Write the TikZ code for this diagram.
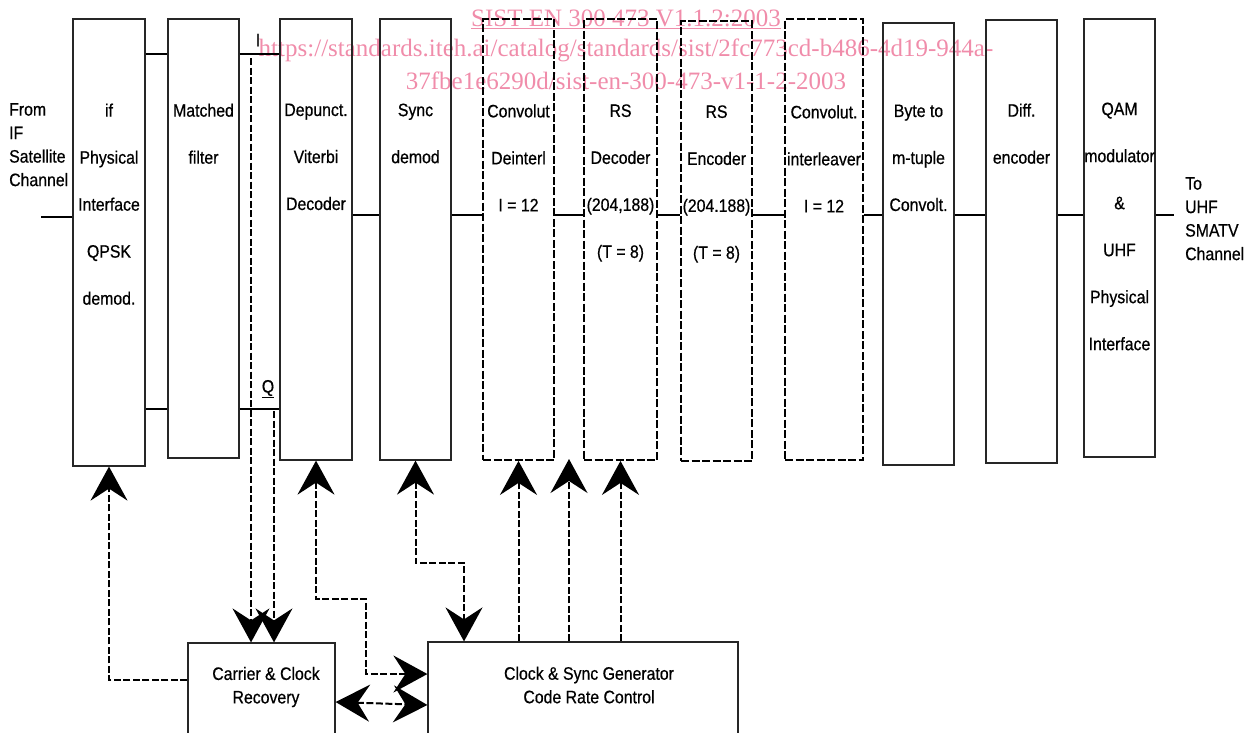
\documentclass[tikz,border=0pt]{standalone}
\usepackage{fontspec}
\setmainfont[FakeStretch=0.88,FakeBold=0.6]{Liberation Sans}
\newfontfamily\wmfont{Liberation Serif}
\usetikzlibrary{arrows.meta}
\definecolor{wmpink}{RGB}{240,140,170}

\begin{document}
\begin{tikzpicture}[x=1pt,y=-1pt,
  >={Stealth[length=34pt,width=37pt,inset=12pt]},
  blk/.style={draw=black!85,line width=1.2pt,inner sep=0pt},
  dblk/.style={draw,line width=1.8pt,dash pattern=on 8pt off 2.5pt,inner sep=0pt},
  txt/.style={anchor=north,align=center,inner sep=0pt,font=\fontsize{18}{47}\selectfont},
  lbl/.style={align=center,inner sep=0pt,font=\fontsize{18}{23.5}\selectfont},
  sig/.style={line width=1.5pt},
  ctl/.style={line width=2pt,dash pattern=on 7pt off 2.5pt},
  wm/.style={text=wmpink,inner sep=0pt,font=\wmfont\fontsize{25}{31}\selectfont}]
  \useasboundingbox (0,0) rectangle (1257,732);
  % watermark
  \node[wm] (wm1) at (626,19) {\underline{SIST EN 300 473 V1.1.2:2003}};
  \node[wm] (wm2) at (626,50) {https://standards.iteh.ai/catalog/standards/sist/2fc773cd-b486-4d19-944a-};
  \node[wm] (wm3) at (626,81) {37fbe1e6290d/sist-en-300-473-v1-1-2-2003};
  % processing chain
  \node[blk,minimum width=72,minimum height=447] (ifpi) at (109,242.5) {};
  \node[blk,minimum width=71,minimum height=439] (mf) at (203.5,238.5) {};
  \node[blk,minimum width=72,minimum height=441] (vit) at (316,239.5) {};
  \node[blk,minimum width=71,minimum height=441] (syn) at (415.5,239.5) {};
  \node[dblk,minimum width=71,minimum height=441] (dint) at (518.5,239.5) {};
  \node[dblk,minimum width=73,minimum height=441] (rsd) at (620.5,239.5) {};
  \node[dblk,minimum width=71,minimum height=440] (rse) at (716.5,241) {};
  \node[dblk,minimum width=78,minimum height=441] (intl) at (824,239.5) {};
  \node[blk,minimum width=71,minimum height=442] (btm) at (918.5,244) {};
  \node[blk,minimum width=71,minimum height=443] (dif) at (1021.5,241.5) {};
  \node[blk,minimum width=71,minimum height=438] (qam) at (1119.5,238) {};
  \node[txt] (ifpit) at ([yshift=-85pt]ifpi.north) {if\\Physical\\Interface\\QPSK\\demod.};
  \node[txt] (mft) at ([yshift=-85pt]mf.north) {Matched\\filter};
  \node[txt] (vitt) at ([yshift=-85pt]vit.north) {Depunct.\\Viterbi\\Decoder};
  \node[txt] (synt) at ([yshift=-85pt]syn.north) {Sync\\demod};
  \node[txt] (dintt) at ([yshift=-86pt]dint.north) {Convolut\\Deinterl\\I = 12};
  \node[txt] (rsdt) at ([yshift=-86pt]rsd.north) {RS\\Decoder\\(204,188)\\(T = 8)};
  \node[txt] (rset) at ([yshift=-85pt]rse.north) {RS\\Encoder\\(204.188)\\(T = 8)};
  \node[txt] (intlt) at ([yshift=-87pt]intl.north) {Convolut.\\interleaver\\I = 12};
  \node[txt] (btmt) at ([yshift=-82pt]btm.north) {Byte to\\m-tuple\\Convolt.};
  \node[txt] (dift) at ([yshift=-84pt]dif.north) {Diff.\\encoder};
  \node[txt] (qamt) at ([yshift=-84pt]qam.north) {QAM\\modulator\\\&\\UHF\\Physical\\Interface};
  % control blocks
  \node[blk,minimum width=147,minimum height=107] (crr) at (261.5,696.5) {};
  \node[blk,minimum width=310,minimum height=108] (csg) at (583,696) {};
  \node[lbl] (crrt) at (266,687) {Carrier \& Clock\\Recovery};
  \node[lbl] (csgt) at (589,685) {Clock \& Sync Generator\\Code Rate Control};
  % in / out labels
  \node[lbl,align=left,anchor=north west] (src) at (9,103) {From\\IF\\Satellite\\Channel};
  \node[lbl,align=left,anchor=north west] (dst) at (1185,177) {To\\UHF\\SMATV\\Channel};
  \node[lbl] (il) at (258,40) {I};
  \node[lbl] (ql) at (268,389) {\underline{Q}};
  % signal lines
  \coordinate (in) at (41,217);
  \coordinate (out) at (1174,215);
  \coordinate (ln) at (0,215);
  \coordinate (ii) at (0,54);
  \coordinate (qq) at (0,409);
  \draw[sig] (in) -- (ifpi.west |- in);
  \draw[sig] (ifpi.east |- ii) -- (mf.west |- ii);
  \draw[sig] (ifpi.east |- qq) -- (mf.west |- qq);
  \draw[sig] (mf.east |- ii) -- (vit.west |- ii);
  \draw[sig] (mf.east |- qq) -- (vit.west |- qq);
  \draw[sig] (vit.east |- ln) -- (syn.west |- ln);
  \draw[sig] (syn.east |- ln) -- (dint.west |- ln);
  \draw[sig] (dint.east |- ln) -- (rsd.west |- ln);
  \draw[sig] (rsd.east |- ln) -- (rse.west |- ln);
  \draw[sig] (rse.east |- ln) -- (intl.west |- ln);
  \draw[sig] (intl.east |- ln) -- (btm.west |- ln);
  \draw[sig] (btm.east |- ln) -- (dif.west |- ln);
  \draw[sig] (dif.east |- ln) -- (qam.west |- ln);
  \draw[sig] (qam.east |- out) -- (out);
  % control lines
  \coordinate (itap) at (251,58);
  \coordinate (qtap) at (274,411);
  \coordinate (c1) at (366,599);
  \coordinate (c2) at (464,563);
  \coordinate (fre) at (569,459);
  \draw[ctl,->] (itap) -- (crr.north -| itap);
  \draw[ctl,->] (qtap) -- (crr.north -| qtap);
  \draw[ctl,->] (crr.west |- 0,680) -| (ifpi.south);
  \draw[ctl,<->] (vit.south) |- (c1) |- (csg.west |- 0,674);
  \draw[ctl,<->] (syn.south) |- (c2) -- (csg.north -| c2);
  \draw[ctl,<->] (crr.east |- 0,702) -- (csg.west |- 0,705);
  \draw[ctl,->] (csg.north -| dint.south) -- (dint.south);
  \draw[ctl,->] (csg.north -| fre) -- (fre);
  \draw[ctl,->] (csg.north -| rsd.south) -- (rsd.south);
\end{tikzpicture}
\end{document}
